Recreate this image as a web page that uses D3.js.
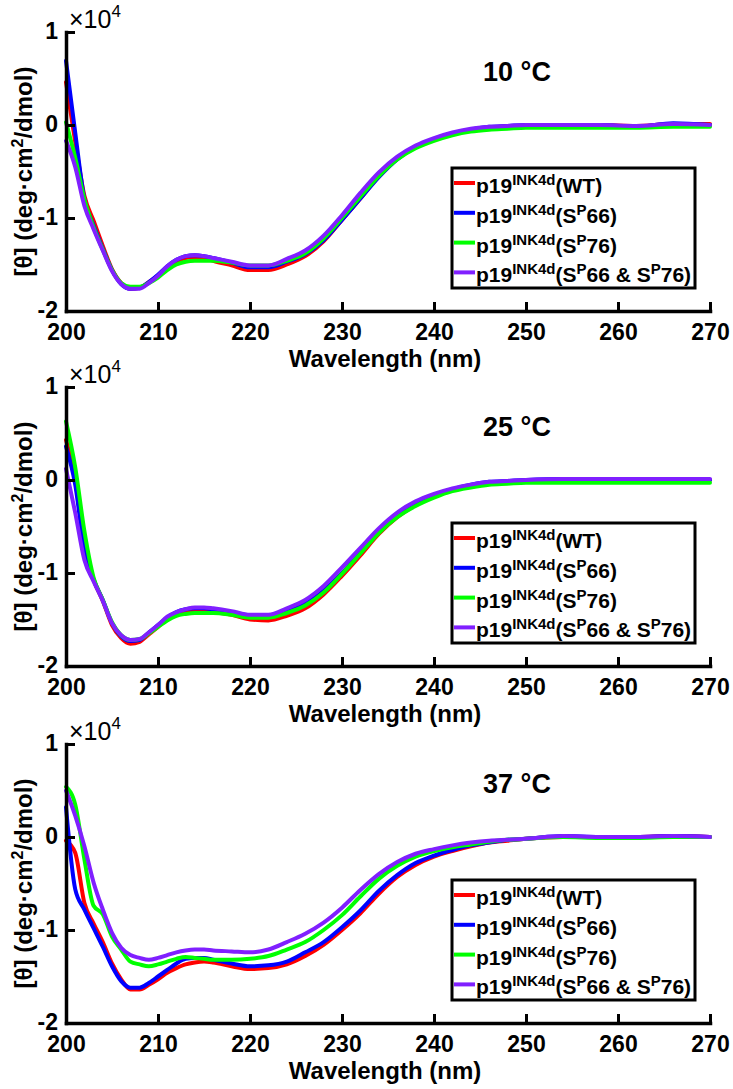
<!DOCTYPE html>
<html>
<head>
<meta charset="utf-8">
<script src="https://cdn.jsdelivr.net/npm/d3@7"></script>
<style>
  html, body { margin: 0; padding: 0; background: #fff; }
  svg { display: block; }
  text { font-family: "Liberation Sans", Arial, sans-serif; }
</style>
</head>
<body>
<svg id="chart" width="733" height="1089"></svg>
<script>
// ---------------- DATA ----------------
const wavelengths = [200,201,202,203,204,205,206,207,208,209,210,211,212,213,214,215,216,218,220,222,224,226,228,230,232,234,236,238,240,242,244,246,248,250,254,258,262,266,270];

const xTicks = [200, 210, 220, 230, 240, 250, 260, 270];
const yTicks = [1, 0, -1, -2];
const yTickLabels = ["1", "0", "-1", "-2"];

const panelTitles = ["10 °C", "25 °C", "37 °C"];

const seriesNames = ["WT", "SP66", "SP76", "SP66&SP76"];
const seriesColors = ["#ff0000", "#0000ff", "#00ff00", "#8020ff"];

// values in units of 10^4 deg·cm^2/dmol
const wt10   = [0.46,-0.18,-0.76,-1.03,-1.30,-1.55,-1.70,-1.76,-1.75,-1.69,-1.62,-1.54,-1.47,-1.43,-1.42,-1.43,-1.46,-1.51,-1.56,-1.56,-1.50,-1.41,-1.25,-1.02,-0.79,-0.55,-0.36,-0.24,-0.16,-0.10,-0.06,-0.03,-0.02,-0.01,0.00,0.00,-0.01,0.01,0.01];
const sp66_10 = [0.69,-0.08,-0.80,-1.08,-1.33,-1.56,-1.71,-1.76,-1.75,-1.69,-1.61,-1.52,-1.45,-1.41,-1.40,-1.41,-1.43,-1.48,-1.53,-1.53,-1.47,-1.39,-1.24,-1.02,-0.79,-0.56,-0.37,-0.24,-0.16,-0.09,-0.05,-0.02,-0.01,0.00,0.00,0.00,-0.02,0.02,0.00];
const sp76_10 = [0.03,-0.35,-0.80,-1.10,-1.34,-1.56,-1.70,-1.74,-1.74,-1.70,-1.64,-1.56,-1.50,-1.47,-1.46,-1.46,-1.46,-1.48,-1.51,-1.51,-1.46,-1.38,-1.22,-1.00,-0.77,-0.55,-0.37,-0.25,-0.17,-0.11,-0.07,-0.05,-0.04,-0.03,-0.03,-0.03,-0.03,-0.02,-0.02];
const dbl10   = [-0.17,-0.45,-0.87,-1.12,-1.35,-1.57,-1.71,-1.76,-1.76,-1.70,-1.62,-1.52,-1.45,-1.41,-1.40,-1.41,-1.43,-1.47,-1.51,-1.51,-1.44,-1.35,-1.19,-0.97,-0.73,-0.51,-0.34,-0.22,-0.14,-0.08,-0.04,-0.02,-0.01,0.00,0.00,0.00,-0.01,0.01,0.00];

const wt25   = [0.43,0.01,-0.70,-1.07,-1.30,-1.56,-1.70,-1.76,-1.74,-1.66,-1.58,-1.50,-1.45,-1.42,-1.41,-1.41,-1.42,-1.45,-1.50,-1.51,-1.46,-1.38,-1.23,-1.03,-0.81,-0.58,-0.40,-0.27,-0.18,-0.11,-0.06,-0.03,-0.02,-0.01,0.00,0.00,0.00,0.01,0.00];
const sp66_25 = [0.36,-0.05,-0.75,-1.07,-1.29,-1.54,-1.68,-1.73,-1.72,-1.64,-1.56,-1.48,-1.42,-1.39,-1.38,-1.38,-1.39,-1.42,-1.46,-1.47,-1.41,-1.33,-1.19,-1.00,-0.78,-0.56,-0.38,-0.26,-0.17,-0.10,-0.05,-0.02,-0.01,0.00,0.01,0.00,0.01,0.01,0.00];
const sp76_25 = [0.63,0.14,-0.55,-1.05,-1.29,-1.53,-1.67,-1.72,-1.71,-1.65,-1.58,-1.51,-1.46,-1.44,-1.43,-1.43,-1.43,-1.45,-1.48,-1.48,-1.43,-1.35,-1.21,-1.01,-0.79,-0.57,-0.40,-0.28,-0.19,-0.12,-0.08,-0.05,-0.04,-0.03,-0.03,-0.03,-0.03,-0.03,-0.03];
const dbl25   = [0.12,-0.35,-0.86,-1.09,-1.30,-1.54,-1.67,-1.72,-1.71,-1.64,-1.56,-1.47,-1.42,-1.39,-1.37,-1.37,-1.38,-1.41,-1.45,-1.45,-1.38,-1.29,-1.14,-0.94,-0.73,-0.52,-0.35,-0.23,-0.15,-0.09,-0.05,-0.02,-0.01,0.00,0.01,0.01,0.01,0.01,0.01];

const wt37   = [-0.04,-0.17,-0.71,-0.93,-1.13,-1.36,-1.53,-1.64,-1.64,-1.59,-1.53,-1.46,-1.41,-1.37,-1.35,-1.34,-1.35,-1.39,-1.42,-1.41,-1.37,-1.28,-1.16,-1.00,-0.82,-0.61,-0.43,-0.30,-0.21,-0.15,-0.10,-0.06,-0.04,-0.02,0.00,0.00,0.00,0.01,0.00];
const sp66_37 = [0.32,-0.56,-0.78,-0.98,-1.18,-1.39,-1.55,-1.62,-1.62,-1.57,-1.50,-1.43,-1.36,-1.31,-1.30,-1.30,-1.32,-1.36,-1.39,-1.38,-1.34,-1.24,-1.13,-0.97,-0.79,-0.58,-0.41,-0.28,-0.20,-0.14,-0.09,-0.06,-0.03,-0.02,0.01,0.00,0.00,0.01,0.00];
const sp76_37 = [0.54,0.35,-0.24,-0.74,-0.83,-1.07,-1.21,-1.34,-1.37,-1.39,-1.37,-1.34,-1.31,-1.29,-1.30,-1.31,-1.32,-1.32,-1.31,-1.28,-1.21,-1.13,-1.00,-0.84,-0.64,-0.45,-0.31,-0.21,-0.15,-0.11,-0.08,-0.05,-0.03,-0.02,0.00,-0.01,-0.01,0.00,0.00];
const dbl37   = [0.50,0.23,-0.10,-0.49,-0.78,-1.03,-1.19,-1.27,-1.30,-1.32,-1.30,-1.27,-1.24,-1.22,-1.21,-1.21,-1.22,-1.23,-1.24,-1.21,-1.13,-1.04,-0.92,-0.76,-0.57,-0.40,-0.27,-0.18,-0.13,-0.09,-0.06,-0.04,-0.03,-0.02,0.01,0.00,0.00,0.01,0.00];

const panelSeries = [
  [wt10, sp66_10, sp76_10, dbl10],
  [wt25, sp66_25, sp76_25, dbl25],
  [wt37, sp66_37, sp76_37, dbl37]
];

// ---------------- LAYOUT ----------------
const svg = d3.select("#chart");
const plotLeft = 66, plotRight = 710, plotH = 279;
const panelTops = [32, 387, 744];

const x = d3.scaleLinear().domain([200, 270]).range([plotLeft, plotRight]);

// legend label pieces: [text, isSuperscript]
const legendPieces = [
  [["p19", 0], ["INK4d", 1], ["(WT)", 0]],
  [["p19", 0], ["INK4d", 1], ["(S", 0], ["P", 1], ["66)", 0]],
  [["p19", 0], ["INK4d", 1], ["(S", 0], ["P", 1], ["76)", 0]],
  [["p19", 0], ["INK4d", 1], ["(S", 0], ["P", 1], ["66 & S", 0], ["P", 1], ["76)", 0]]
];

panelTops.forEach((top, pi) => {
  const bottom = top + plotH;
  const y = d3.scaleLinear().domain([-2, 1]).range([bottom, top]);
  const g = svg.append("g");

  // curves
  const line = d3.line()
    .x((d, i) => x(wavelengths[i]))
    .y(d => y(d))
    .curve(d3.curveMonotoneX);

  panelSeries[pi].forEach((vals, si) => {
    g.append("path")
      .datum(vals)
      .attr("d", line)
      .attr("fill", "none")
      .attr("stroke", seriesColors[si])
      .attr("stroke-width", 4)
      .attr("stroke-linejoin", "round")
      .attr("stroke-linecap", "round");
  });

  // axes
  const xAxis = d3.axisBottom(x).tickValues(xTicks).tickSizeInner(-9).tickSizeOuter(0).tickPadding(13);
  const yAxis = d3.axisLeft(y).tickValues(yTicks).tickFormat((d, i) => yTickLabels[i]).tickSizeInner(-9).tickSizeOuter(0).tickPadding(8);

  const gx = g.append("g").attr("transform", `translate(0,${bottom})`).call(xAxis);
  const gy = g.append("g").attr("transform", `translate(${plotLeft},0)`).call(yAxis);

  [gx, gy].forEach(ax => {
    ax.select(".domain").attr("stroke", "#000").attr("stroke-width", 3.5).attr("stroke-linecap", "square");
    ax.selectAll(".tick line").attr("stroke", "#000").attr("stroke-width", 3);
    ax.selectAll(".tick text")
      .attr("fill", "#000")
      .style("font-family", "'Liberation Sans', Arial, sans-serif")
      .style("font-size", "23px")
      .style("font-weight", "bold");
  });
  gy.selectAll(".tick text").attr("dy", "0.28em");

  // x label
  g.append("text")
    .attr("x", 385).attr("y", bottom + 56)
    .attr("text-anchor", "middle")
    .style("font-size", "24px").style("font-weight", "bold")
    .text("Wavelength (nm)");

  // y label
  const yl = g.append("text")
    .attr("transform", `translate(32,${(top + bottom) / 2}) rotate(-90)`)
    .attr("text-anchor", "middle")
    .style("font-size", "24px").style("font-weight", "bold");
  yl.append("tspan").text("[θ] (deg·cm");
  yl.append("tspan").attr("dy", -9).style("font-size", "16px").text("2");
  yl.append("tspan").attr("dy", 9).text("/dmol)");

  // exponent
  const ex = g.append("text")
    .attr("x", 69).attr("y", top - 4)
    .style("font-size", "25px");
  ex.append("tspan").text("×10");
  ex.append("tspan").attr("dy", -11).style("font-size", "17px").text("4");

  // title
  g.append("text")
    .attr("x", 517).attr("y", top + 49)
    .attr("text-anchor", "middle")
    .style("font-size", "27px").style("font-weight", "bold")
    .text(panelTitles[pi]);

  // legend
  const lg = g.append("g");
  lg.append("rect")
    .attr("x", 452).attr("y", top + 136)
    .attr("width", 243).attr("height", 120)
    .attr("fill", "#fff").attr("stroke", "#000").attr("stroke-width", 3);

  legendPieces.forEach((pieces, si) => {
    const base = top + 161 + si * 29.8;
    lg.append("line")
      .attr("x1", 454).attr("x2", 475)
      .attr("y1", base - 10).attr("y2", base - 10)
      .attr("stroke", seriesColors[si]).attr("stroke-width", 4);
    const t = lg.append("text")
      .attr("x", 476).attr("y", base)
      .style("font-size", "21px").style("font-weight", "bold");
    let raised = false;
    pieces.forEach(([txt, sup]) => {
      const ts = t.append("tspan").text(txt);
      if (sup && !raised) { ts.attr("dy", -8).style("font-size", "15px"); raised = true; }
      else if (!sup && raised) { ts.attr("dy", 8); raised = false; }
    });
  });
});
</script>
</body>
</html>
